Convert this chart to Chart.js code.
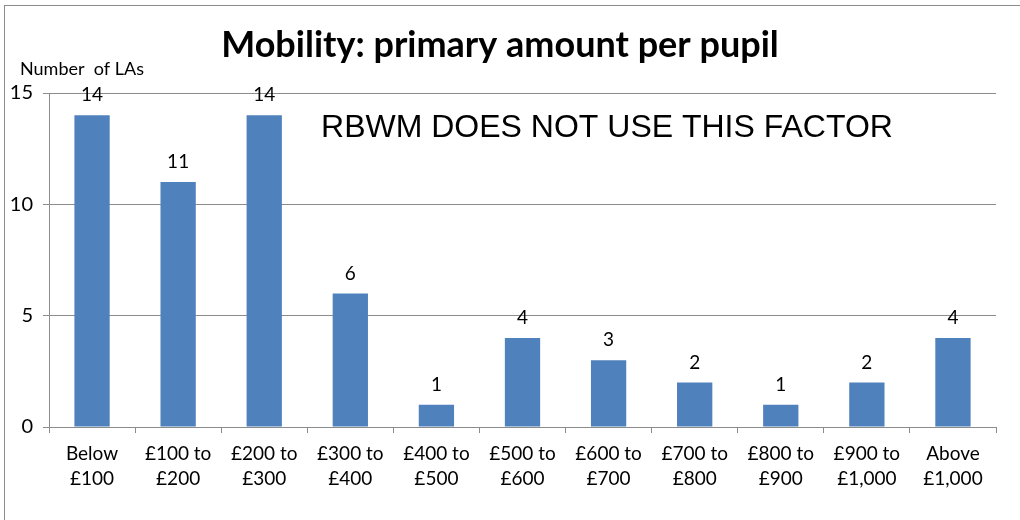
<!DOCTYPE html>
<html>
<head>
<meta charset="utf-8">
<script src="https://cdn.jsdelivr.net/npm/chart.js@4"></script>
<style>
  body { margin: 0; background: #fff; }
  #wrap { width: 1020px; height: 520px; position: relative; }
</style>
</head>
<body>
<div id="wrap"><canvas id="chart" width="1020" height="520"></canvas></div>
<script>
const categories = [
  ["Below", "£100"], ["£100 to", "£200"], ["£200 to", "£300"], ["£300 to", "£400"],
  ["£400 to", "£500"], ["£500 to", "£600"], ["£600 to", "£700"], ["£700 to", "£800"],
  ["£800 to", "£900"], ["£900 to", "£1,000"], ["Above", "£1,000"]
];
const numberOfLAs = [14, 11, 14, 6, 1, 4, 3, 2, 1, 2, 4];
const yTicks = [0, 5, 10, 15];

const chartTitle = "Mobility: primary amount per pupil";
const axisTitle = "Number  of LAs";
const note = "RBWM DOES NOT USE THIS FACTOR";

const font = "Lato, 'Open Sans', sans-serif";

// draws the frame, title, axis label, note and value labels
const extras = {
  id: "extras",
  afterDraw(chart) {
    const ctx = chart.ctx;
    ctx.save();
    ctx.strokeStyle = "#8c8c8c";
    ctx.lineWidth = 1;
    ctx.strokeRect(4.5, 5.5, 1030, 530);

    ctx.fillStyle = "#000";
    ctx.textAlign = "center";
    ctx.textBaseline = "middle";
    ctx.font = "bold 36px " + font;
    ctx.fillText(chartTitle, 500, 45);

    ctx.font = "18px " + font;
    ctx.textAlign = "left";
    ctx.fillText(axisTitle, 20, 69);

    ctx.font = "32px 'Liberation Sans', Arial, sans-serif";
    ctx.textAlign = "center";
    ctx.fillText(note, 607, 128);

    ctx.font = "19px " + font;
    const meta = chart.getDatasetMeta(0);
    meta.data.forEach((bar, i) => {
      ctx.fillText(String(numberOfLAs[i]), bar.x, bar.y - 20);
    });
    ctx.restore();
  }
};

new Chart(document.getElementById("chart"), {
  type: "bar",
  data: {
    labels: categories,
    datasets: [{
      data: numberOfLAs,
      backgroundColor: "#4f81bd",
      categoryPercentage: 1,
      barPercentage: 0.41
    }]
  },
  options: {
    responsive: false,
    animation: false,
    layout: { padding: { top: 93, right: 24, left: 0, bottom: 0 } },
    plugins: {
      legend: { display: false },
      tooltip: { enabled: false }
    },
    scales: {
      x: {
        afterFit: s => { s.height = 93; },
        grid: { display: true, drawOnChartArea: false, offset: true, tickLength: 6, color: "#8c8c8c" },
        border: { color: "#8c8c8c" },
        ticks: { color: "#000", font: { family: font, size: 19, lineHeight: 1.3 }, padding: 9, maxRotation: 0 }
      },
      y: {
        min: 0,
        max: 15,
        afterFit: s => { s.width = 49; },
        afterBuildTicks: s => { s.ticks = yTicks.map(v => ({ value: v })); },
        grid: { color: "#8c8c8c", tickLength: 6 },
        border: { color: "#8c8c8c" },
        ticks: { color: "#000", font: { family: font, size: 20 }, padding: 10 }
      }
    }
  },
  plugins: [extras]
});
</script>
</body>
</html>
